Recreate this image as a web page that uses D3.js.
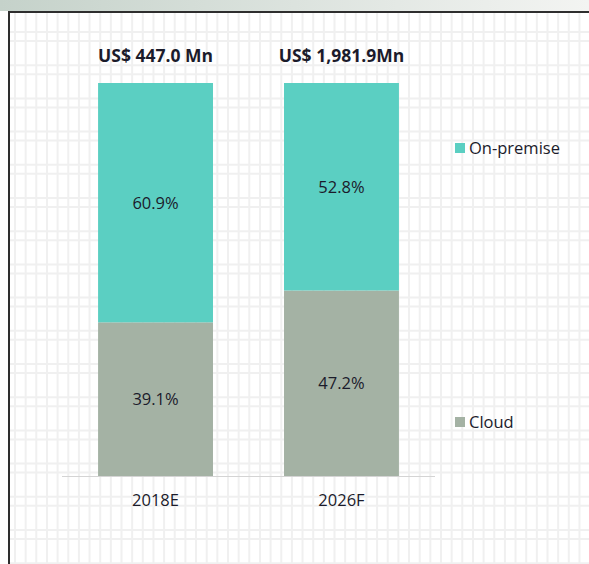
<!DOCTYPE html>
<html>
  <head>
    <title>Cloud vs on-premise split</title>
    <script src="https://d3js.org/d3.v7.min.js"></script>
    <style>
      body { margin: 0; background: #fff; }
      text { font-family: "Open Sans", Lato, sans-serif; fill: #1b1b2b; }
    </style>
  </head>
  <body>
    <svg id="chart" width="589" height="564"></svg>
  </body>
  <script type="text/javascript">
    var years = ["2018E", "2026F"];
    var totals = ["US$ 447.0 Mn", "US$ 1,981.9Mn"];
    var cloud = [39.1, 47.2];
    var onPremise = [60.9, 52.8];
    var seriesNames = ["Cloud", "On-premise"];
    var colors = ["#a4b2a4", "#5bcfc2"];

    var rows = years.map(function(y, i) {
      return { year: y, "Cloud": cloud[i], "On-premise": onPremise[i] };
    });

    var svg = d3.select("#chart");

    // sheet background: grey band on top, cell grid, frame
    var grad = svg.append("defs").append("linearGradient").attr("id", "band");
    grad.append("stop").attr("offset", "0%").attr("stop-color", "#c5d2ca");
    grad.append("stop").attr("offset", "100%").attr("stop-color", "#f3f4f2");
    svg.append("rect").attr("x", 0).attr("y", 0).attr("width", 589).attr("height", 11)
      .attr("fill", "url(#band)");

    var grid = svg.append("g").attr("stroke", "#f0f0f0").attr("stroke-width", 2);
    grid.selectAll("line.v")
      .data(d3.range(15, 589, 10.65))
      .enter().append("line")
        .attr("class", "v")
        .attr("x1", function(d){ return d; }).attr("x2", function(d){ return d; })
        .attr("y1", 13).attr("y2", 564);
    var hrows = [];
    d3.range(-1, 17).forEach(function(k) {
      hrows.push(32 + 33.2 * k, 41 + 33.2 * k);
    });
    grid.selectAll("line.h")
      .data(hrows.filter(function(d){ return d > 13; }))
      .enter().append("line")
        .attr("class", "h")
        .attr("x1", 10).attr("x2", 589)
        .attr("y1", function(d){ return d; }).attr("y2", function(d){ return d; });

    svg.append("line").attr("x1", 8).attr("x2", 589).attr("y1", 12).attr("y2", 12)
      .attr("stroke", "#2e2e2e").attr("stroke-width", 2);
    svg.append("line").attr("x1", 9).attr("x2", 9).attr("y1", 11).attr("y2", 564)
      .attr("stroke", "#2e2e2e").attr("stroke-width", 2);

    // chart
    var x = d3.scaleBand()
      .domain(years)
      .range([62, 435])
      .paddingInner(0.382)
      .paddingOuter(0.194);
    var y = d3.scaleLinear()
      .domain([0, 100])
      .range([476, 83]);

    var stack = d3.stack().keys(seriesNames)(rows);

    var layers = svg.selectAll("g.layer")
      .data(stack)
      .enter().append("g")
        .attr("class", "layer")
        .attr("fill", function(d, i){ return colors[i]; });

    layers.selectAll("rect")
      .data(function(d){ return d; })
      .enter().append("rect")
        .attr("x", function(d){ return x(d.data.year); })
        .attr("width", x.bandwidth())
        .attr("y", function(d){ return y(d[1]); })
        .attr("height", function(d){ return y(d[0]) - y(d[1]); });

    layers.selectAll("text")
      .data(function(d){ return d; })
      .enter().append("text")
        .attr("x", function(d){ return x(d.data.year) + x.bandwidth() / 2; })
        .attr("y", function(d){ return (y(d[0]) + y(d[1])) / 2 + 6; })
        .attr("text-anchor", "middle")
        .attr("font-size", 16.5)
        .text(function(d){ return (d[1] - d[0]).toFixed(1) + "%"; });

    svg.append("line")
      .attr("x1", x.range()[0]).attr("x2", x.range()[1])
      .attr("y1", y(0) + 0.5).attr("y2", y(0) + 0.5)
      .attr("stroke", "#d4d4d4").attr("stroke-width", 1);

    svg.selectAll("text.year")
      .data(years)
      .enter().append("text")
        .attr("class", "year")
        .attr("x", function(d){ return x(d) + x.bandwidth() / 2; })
        .attr("y", 506)
        .attr("text-anchor", "middle")
        .attr("font-size", 16.5)
        .text(function(d){ return d; });

    svg.selectAll("text.total")
      .data(totals)
      .enter().append("text")
        .attr("class", "total")
        .attr("x", function(d, i){ return x(years[i]) + x.bandwidth() / 2; })
        .attr("y", 62)
        .attr("text-anchor", "middle")
        .attr("font-size", 17.5)
        .attr("font-weight", "bold")
        .text(function(d){ return d; });

    // legend, on-premise at top, cloud at bottom
    var legendY = { "On-premise": 148, "Cloud": 422 };
    var legend = svg.selectAll("g.legend")
      .data(seriesNames)
      .enter().append("g")
        .attr("class", "legend")
        .attr("transform", function(d){ return "translate(455," + legendY[d] + ")"; });
    legend.append("rect")
      .attr("x", 0).attr("y", -5).attr("width", 10).attr("height", 10)
      .attr("fill", function(d, i){ return colors[i]; });
    legend.append("text")
      .attr("x", 14).attr("y", 6)
      .attr("font-size", 16.5)
      .text(function(d){ return d; });
  </script>
</html>
